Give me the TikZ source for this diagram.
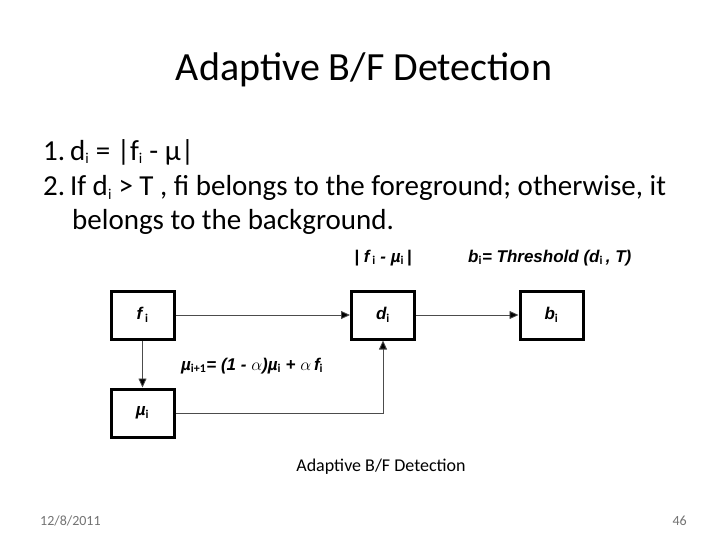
\documentclass[tikz,border=0pt]{standalone}
\usepackage{fontspec}
\setmainfont{Carlito}
\newfontfamily\arialf{Liberation Sans}
\usetikzlibrary{arrows.meta}
\begin{document}
\begin{tikzpicture}[x=1pt,y=-1pt,
  blk/.style={draw,line width=3pt,minimum width=63pt,minimum height=48pt,inner sep=0pt,font=\arialf\bfseries\itshape\fontsize{17}{19}\selectfont},
  conn/.style={draw=black!70,line width=0.8pt,-{Triangle[length=9pt,width=8pt,fill=black]}},
  lab/.style={font=\arialf\bfseries\itshape\fontsize{17}{19}\selectfont,inner sep=0pt}]
\useasboundingbox (0,0) rectangle (728,546);
\fill[white] (0,0) rectangle (728,546);
\node (title) at (364,70) {\fontsize{40}{46}\selectfont Adaptive B/F Detection};
\node[anchor=west,inner sep=0pt] (l1) at (43,152) {\fontsize{29}{34}\selectfont 1.\,d\textsubscript{\fontsize{15}{15}\selectfont i} = |f\textsubscript{\fontsize{15}{15}\selectfont i} - µ|};
\node[anchor=west,inner sep=0pt] (l2) at (43,188) {\fontsize{29}{34}\selectfont 2.\,If d\textsubscript{\fontsize{15}{15}\selectfont i} > T , fi belongs to the foreground; otherwise, it};
\node[anchor=west,inner sep=0pt] (l3) at (72,222) {\fontsize{29}{34}\selectfont belongs to the background.};
\node[blk] (f) at (142.5,315) {f\,\textsubscript{\normalfont\bfseries i}};
\node[blk] (d) at (383,315) {d\textsubscript{\normalfont\bfseries i}};
\node[blk] (b) at (551.5,315) {b\textsubscript{\normalfont\bfseries i}};
\node[blk] (m) at (142.5,413) {µ\textsubscript{\normalfont\bfseries i}};
\draw[conn] (f) -- (d);
\draw[conn] (d) -- (b);
\draw[conn] (f) -- (m);
\draw[conn] (m.east) -| (d.south);
\node[lab] (ld) at (383,258) {| f\,\textsubscript{\normalfont\bfseries i} - µ\textsubscript{\normalfont\bfseries i}\,|};
\node[lab,anchor=west] (lb) at (468,258) {b\textsubscript{\normalfont\bfseries i}= Threshold (d\textsubscript{\normalfont\bfseries i}\,, T)};
\node[lab,anchor=west] (lm) at (181,366) {µ\textsubscript{\normalfont\bfseries i+1}= (1 - $\alpha$)µ\textsubscript{\normalfont\bfseries i} + $\alpha$\,f\textsubscript{\normalfont\bfseries i}};
\node (cap) at (381,467) {\fontsize{18}{21}\selectfont Adaptive B/F Detection};
\node[anchor=west,text=black!55,inner sep=0pt] (date) at (40,521) {\fontsize{14}{16}\selectfont 12/8/2011};
\node[anchor=east,text=black!55,inner sep=0pt] (pg) at (687,521) {\fontsize{14}{16}\selectfont 46};
\end{tikzpicture}
\end{document}
